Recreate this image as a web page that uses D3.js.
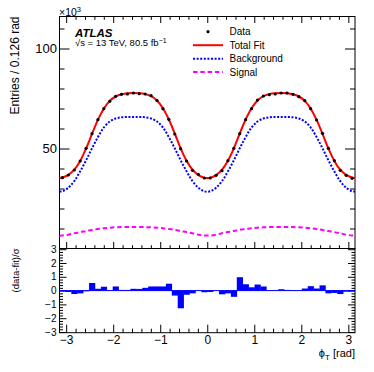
<!DOCTYPE html>
<html>
<head>
<meta charset="utf-8">
<script src="https://cdn.jsdelivr.net/npm/d3@7"></script>
<style>
  body { margin: 0; background: #fff; }
  text { font-family: "Liberation Sans", Arial, Helvetica, sans-serif; fill: #000; }
</style>
</head>
<body>
<svg id="chart" width="374" height="372"></svg>
<script>
// ---- data (entries in units of 10^3) ----
const nBins = 50;
const dataCounts = [35.4, 36.75, 39.25, 43.75, 50.1, 57.4, 64.4, 69.9, 73.6, 76.1,
  77.1, 77.25, 77.75, 77.4, 77.25, 76.4, 74.0, 69.9, 64.6, 57.25,
  49.9, 43.75, 39.1, 37.1, 35.25, 35.25, 36.6, 38.9, 43.9, 50.1,
  57.4, 64.4, 69.9, 74.2, 76.25, 76.9, 77.25, 77.75, 77.75, 77.1,
  75.9, 73.9, 69.9, 64.25, 57.6, 50.1, 43.9, 39.1, 36.6, 35.1];

// curves: value at -pi, one value per bin centre, value at +pi
const fitCurve = [35.2,
  35.5, 36.8, 39.4, 43.8, 50.0, 57.3, 64.3, 69.9, 73.8, 76.0, 77.1, 77.6, 77.7,
  77.6, 77.2, 76.2, 74.0, 70.1, 64.5, 57.5, 50.1, 43.9, 39.4, 36.7, 35.4,
  35.4, 36.7, 39.4, 43.9, 50.1, 57.5, 64.5, 70.1, 74.0, 76.2, 77.2, 77.6, 77.7,
  77.6, 77.1, 76.0, 73.8, 69.9, 64.3, 57.3, 50.0, 43.8, 39.4, 36.8, 35.5,
  35.2];
const bkgCurve = [28.5,
  28.6, 30.4, 33.7, 38.6, 44.1, 50.1, 55.7, 60.5, 63.5, 65.0, 65.6, 65.75, 65.75,
  65.75, 65.6, 65.0, 63.5, 60.5, 55.7, 50.1, 44.1, 38.6, 33.7, 30.4, 28.6,
  28.6, 30.4, 33.7, 38.6, 44.1, 50.1, 55.7, 60.5, 63.5, 65.0, 65.6, 65.75, 65.75,
  65.75, 65.6, 65.0, 63.5, 60.5, 55.7, 50.1, 44.1, 38.6, 33.7, 30.4, 28.6,
  28.5];
const sigCurve = [6.4,
  6.5, 6.9, 7.6, 8.2, 8.7, 9.3, 9.7, 10.1, 10.4, 10.6, 10.7, 10.75, 10.75,
  10.75, 10.7, 10.6, 10.4, 10.1, 9.7, 9.3, 8.7, 8.2, 7.6, 6.9, 6.5,
  6.5, 6.9, 7.6, 8.2, 8.7, 9.3, 9.7, 10.1, 10.4, 10.6, 10.7, 10.75, 10.75,
  10.75, 10.7, 10.6, 10.4, 10.1, 9.7, 9.3, 8.7, 8.2, 7.6, 6.9, 6.5,
  6.4];

// (data-fit)/sigma per bin
const pulls = [-0.05, -0.1, -0.25, -0.2, -0.05, 0.55, 0.13, 0.28, 0.03, 0.3,
  0.05, 0.05, 0.13, 0.12, 0.2, 0.3, 0.3, 0.3, 0.5, -0.36,
  -1.28, -0.3, -0.2, 0.02, -0.12, -0.1, 0.0, -0.27, -0.2, -0.45,
  0.97, 0.46, 0.24, 0.44, 0.3, 0.03, 0.02, 0.1, 0.05, 0.03,
  0.02, 0.15, 0.32, 0.15, 0.38, -0.2, -0.17, -0.25, -0.08, -0.05];

const legendLabels = ["Data", "Total Fit", "Background", "Signal"];
const xTicks = [-3, -2, -1, 0, 1, 2, 3];
const mainYTicks = [50, 100];
const pullYTicks = [-3, -2, -1, 0, 1, 2, 3];

// ---- layout ----
const svg = d3.select("#chart");
const L = 59.5, R = 355, T = 16.5, MB = 248.5, PB = 332.7;

const binW = 2 * Math.PI / nBins;
const centers = d3.range(nBins).map(i => -Math.PI + (i + 0.5) * binW);
const curveX = [-Math.PI, ...centers, Math.PI];

const x = d3.scaleLinear().domain([-Math.PI, Math.PI]).range([L, R]);
const yMain = d3.scaleLinear().domain([0, 116]).range([MB, T]);
const yPull = d3.scaleLinear().domain([-3.05, 3.05]).range([PB, MB]);

const xMinor = d3.range(-30, 31, 2).map(v => v / 10).filter(v => !xTicks.includes(v));
const yMainMinor = d3.range(10, 116, 10).filter(v => !mainYTicks.includes(v));
const yPullMinor = d3.range(-30, 31, 2).map(v => v / 10).filter(v => !pullYTicks.includes(v));

const blank = () => "";
const minus = d => String(d).replace("-", "\u2212");
function drawAxis(axisFn, scale, values, size, tx, ty, fmt, pad, fs) {
  const g = svg.append("g")
    .attr("transform", `translate(${tx},${ty})`)
    .call(axisFn(scale).tickValues(values).tickSize(size).tickSizeOuter(0)
      .tickPadding(pad || 0).tickFormat(fmt || blank));
  g.select(".domain").remove();
  g.selectAll("line").attr("stroke", "#000");
  g.selectAll("text").attr("font-size", fs || 12)
    .attr("font-family", '"Liberation Sans", Arial, sans-serif').attr("fill", "#000");
  return g;
}

// main panel axes
drawAxis(d3.axisBottom, x, xTicks, -6.5, 0, MB);
drawAxis(d3.axisBottom, x, xMinor, -3.3, 0, MB);
drawAxis(d3.axisTop, x, xTicks, -6.5, 0, T);
drawAxis(d3.axisTop, x, xMinor, -3.3, 0, T);
drawAxis(d3.axisLeft, yMain, mainYTicks, -10, L, 0, d => d, 2.5, 13);
drawAxis(d3.axisLeft, yMain, yMainMinor, -5, L, 0);
drawAxis(d3.axisRight, yMain, mainYTicks, -10, R, 0);
drawAxis(d3.axisRight, yMain, yMainMinor, -5, R, 0);

// pull panel axes
drawAxis(d3.axisBottom, x, xTicks, -8, 0, PB, minus, 2.5, 12);
drawAxis(d3.axisBottom, x, xMinor, -4, 0, PB);
drawAxis(d3.axisLeft, yPull, pullYTicks, -7, L, 0, minus, 3, 10);
drawAxis(d3.axisLeft, yPull, yPullMinor, -3.5, L, 0);
drawAxis(d3.axisRight, yPull, pullYTicks, -7, R, 0);
drawAxis(d3.axisRight, yPull, yPullMinor, -3.5, R, 0);

// frames
svg.append("rect").attr("x", L).attr("y", T).attr("width", R - L).attr("height", MB - T)
  .attr("fill", "none").attr("stroke", "#000").attr("stroke-width", 1);
svg.append("rect").attr("x", L).attr("y", MB).attr("width", R - L).attr("height", PB - MB)
  .attr("fill", "none").attr("stroke", "#000").attr("stroke-width", 1);

// ---- curves ----
const line = ys => d3.line()
  .x((d, i) => x(curveX[i]))
  .y(d => ys(d))
  .curve(d3.curveCatmullRom.alpha(0.5));

svg.append("path").datum(sigCurve).attr("d", line(yMain))
  .attr("fill", "none").attr("stroke", "#ff00ff").attr("stroke-width", 2)
  .attr("stroke-dasharray", "4.5,2.8");
svg.append("path").datum(bkgCurve).attr("d", line(yMain))
  .attr("fill", "none").attr("stroke", "#0000ff").attr("stroke-width", 2)
  .attr("stroke-dasharray", "2,1.6");
svg.append("path").datum(fitCurve).attr("d", line(yMain))
  .attr("fill", "none").attr("stroke", "#ff0000").attr("stroke-width", 2);

svg.append("g").selectAll("circle").data(dataCounts).join("circle")
  .attr("cx", (d, i) => x(centers[i]))
  .attr("cy", d => yMain(d))
  .attr("r", 1.6)
  .attr("fill", "#000");

// ---- pulls ----
svg.append("g").selectAll("rect").data(pulls).join("rect")
  .attr("x", (d, i) => x(centers[i] - binW / 2))
  .attr("width", (d, i) => x(centers[i] + binW / 2) - x(centers[i] - binW / 2) + 0.3)
  .attr("y", d => yPull(Math.max(0, d)))
  .attr("height", d => Math.abs(yPull(d) - yPull(0)))
  .attr("fill", "#0000ff");
svg.append("line").attr("x1", L).attr("x2", R)
  .attr("y1", yPull(0)).attr("y2", yPull(0))
  .attr("stroke", "#0000ff").attr("stroke-width", 1);

// ---- legend ----
const legY = [31.7, 45.2, 58.7, 72.1];
const leg = svg.append("g");
leg.append("circle").attr("cx", 208).attr("cy", legY[0]).attr("r", 1.6).attr("fill", "#000");
leg.append("line").attr("x1", 193).attr("x2", 223).attr("y1", legY[1]).attr("y2", legY[1])
  .attr("stroke", "#ff0000").attr("stroke-width", 2);
leg.append("line").attr("x1", 193).attr("x2", 223).attr("y1", legY[2]).attr("y2", legY[2])
  .attr("stroke", "#0000ff").attr("stroke-width", 2).attr("stroke-dasharray", "2,1.6");
leg.append("line").attr("x1", 193).attr("x2", 223).attr("y1", legY[3]).attr("y2", legY[3])
  .attr("stroke", "#ff00ff").attr("stroke-width", 2).attr("stroke-dasharray", "4.5,2.8");
leg.selectAll("text").data(legendLabels).join("text")
  .attr("x", 229.5).attr("y", (d, i) => legY[i] + 3.6)
  .attr("font-size", 10).text(d => d);

// ---- labels ----
svg.append("text").attr("x", 75).attr("y", 36.5)
  .attr("font-size", 11.5).attr("font-weight", "bold").attr("font-style", "italic")
  .text("ATLAS");
const lumi = svg.append("text").attr("x", 75).attr("y", 46).attr("font-size", 9.5);
lumi.append("tspan").text("\u221As = 13 TeV, 80.5 fb");
lumi.append("tspan").attr("dy", -3.5).attr("font-size", 7).text("\u22121");

const sc = svg.append("text").attr("x", 59).attr("y", 15.5).attr("font-size", 10.5);
sc.append("tspan").text("\u00d710");
sc.append("tspan").attr("dy", -4).attr("font-size", 7.5).text("3");

svg.append("text")
  .attr("transform", `translate(19,${T}) rotate(-90)`)
  .attr("text-anchor", "end").attr("font-size", 12)
  .text("Entries / 0.126 rad");
svg.append("text")
  .attr("transform", `translate(19,${MB}) rotate(-90)`)
  .attr("text-anchor", "end").attr("font-size", 9.5)
  .text("(data-fit)/\u03c3");

const xt = svg.append("text").attr("x", R).attr("y", 357)
  .attr("text-anchor", "end").attr("font-size", 11);
xt.append("tspan").text("\u03d5");
xt.append("tspan").attr("dy", 3).attr("font-size", 8).text("T");
xt.append("tspan").attr("dy", -3).text(" [rad]");
</script>
</body>
</html>
